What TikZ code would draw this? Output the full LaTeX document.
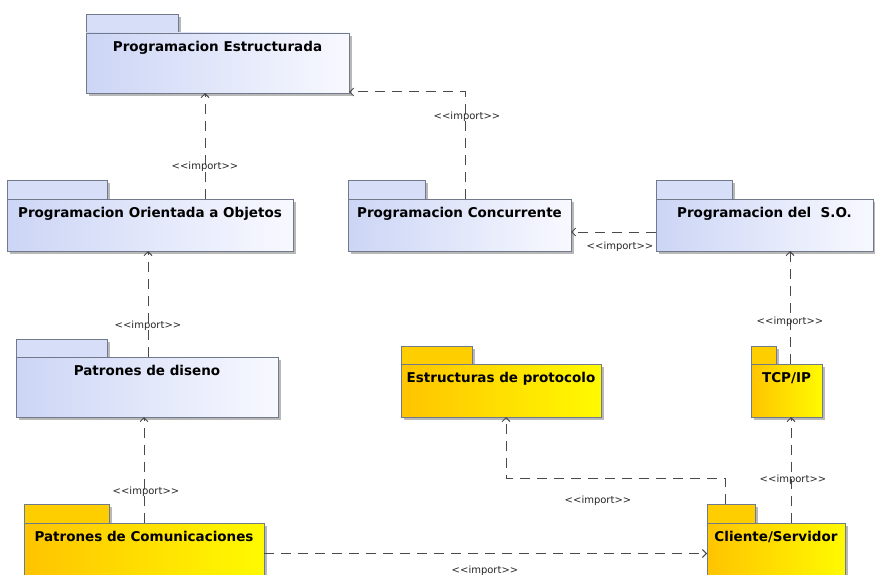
\documentclass[tikz,border=0pt]{standalone}
\usepackage{fontspec}
\setmainfont{DejaVu Sans}
\usetikzlibrary{arrows.meta,calc}
\definecolor{bL}{HTML}{CCD5F5}
\definecolor{bR}{HTML}{F8F9FF}
\definecolor{bT}{HTML}{D6DEF8}
\definecolor{yL}{HTML}{FFC400}
\definecolor{yR}{HTML}{FFFA00}
\definecolor{yT}{HTML}{FFCE00}
\definecolor{edge}{HTML}{707A8A}
\definecolor{shd}{HTML}{B8B8B8}
\definecolor{ln}{HTML}{4A4A4A}
\tikzset{
  bluebody/.style={left color=bL, right color=bR},
  bluetab/.style={fill=bT},
  yellowbody/.style={left color=yL, right color=yR},
  yellowtab/.style={fill=yT},
  pkgline/.style={draw=edge, line width=0.8pt, inner sep=0pt, outer sep=0pt, anchor=north west},
  pkgtext/.style={font=\fontsize{13.5}{15}\selectfont\bfseries, inner sep=0pt, anchor=base},
  lbl/.style={font=\fontsize{10}{12}\selectfont, inner sep=0pt, text=black!85},
  imp/.style={draw=ln, line width=1pt, dash pattern=on 10pt off 7pt, -{Straight Barb[length=4pt,width=8pt]}},
}
\newcommand\imptxt{<\kern0pt<import>\kern0pt>}
% name, x1, ytab, xtab, ybody, x2, ybottom, colour, text
\newcommand\pkg[9]{%
  \fill[shd] (#2+3,#3+3) rectangle (#4+3,#5+3);
  \fill[shd] (#2+3,#5+3) rectangle (#6+3,#7+3);
  \node[pkgline, #8tab, minimum width={(#4-#2)*1pt}, minimum height={(#5-#3)*1pt}] (#1tab) at (#2,#3) {};
  \node[pkgline, #8body, minimum width={(#6-#2)*1pt}, minimum height={(#7-#5)*1pt}] (#1) at (#2,#5) {};
  \node[pkgtext] (#1-t) at ([yshift=-18.7pt]#1.north) {#9};
}
\begin{document}
\begin{tikzpicture}[x=1pt,y=-1pt]
\useasboundingbox (0,0) rectangle (875,575);
\clip (0,0) rectangle (875,575);
\pkg{pe}{86}{14}{178}{33}{349}{93}{blue}{Programacion Estructurada}
\pkg{poo}{7}{180}{107}{199}{293}{251}{blue}{Programacion Orientada a Objetos}
\pkg{pc}{348}{180}{425}{199}{571}{251}{blue}{Programacion Concurrente}
\pkg{so}{656}{180}{732}{199}{873}{251}{blue}{Programacion del\ \ S.O.}
\pkg{pd}{16}{339}{107}{357}{278}{417}{blue}{Patrones de diseno}
\pkg{ep}{401}{346}{472}{364}{601}{417}{yellow}{Estructuras de protocolo}
\pkg{tcp}{751}{346}{776}{364}{822}{417}{yellow}{TCP/IP}
\pkg{pcom}{24}{504}{109}{523}{264}{580}{yellow}{Patrones de Comunicaciones}
\pkg{cs}{707}{504}{755}{523}{845}{580}{yellow}{Cliente/Servidor}

\draw[imp] ([xshift=55pt]poo.north) coordinate (c1) -- (c1 |- pe.south);
\draw[imp] ([xshift=5.5pt]pc.north) |- ([yshift=1pt]pe.south east);
\draw[imp] ([yshift=-7pt]so.west) coordinate (c3) -- (c3 -| pc.east);
\draw[imp] ([xshift=1pt]pd.north) coordinate (c4) -- (c4 |- poo.south);
\draw[imp] ([xshift=3.5pt]tcp.north) coordinate (c5) -- (c5 |- so.south);
\draw[imp] (pcom.north) -- (pcom.north |- pd.south);
\draw[imp] ([xshift=-6pt]cstab.north) -- ++(0,-26) -| ([xshift=5pt]ep.south);
\draw[imp] ([xshift=15pt]cs.north) coordinate (c8) -- (c8 |- tcp.south);
\draw[imp] ([yshift=-2pt]pcom.east) coordinate (c9) -- (c9 -| cs.west);

\node[lbl] (l1) at (205,167) {\imptxt};
\node[lbl] (l2) at (467,117) {\imptxt};
\node[lbl] (l3) at (620,247) {\imptxt};
\node[lbl] (l4) at (148,326) {\imptxt};
\node[lbl] (l5) at (790,322) {\imptxt};
\node[lbl] (l6) at (146,492) {\imptxt};
\node[lbl] (l7) at (598,501) {\imptxt};
\node[lbl] (l8) at (793,480) {\imptxt};
\node[lbl] (l9) at (485,571) {\imptxt};
\end{tikzpicture}
\end{document}
